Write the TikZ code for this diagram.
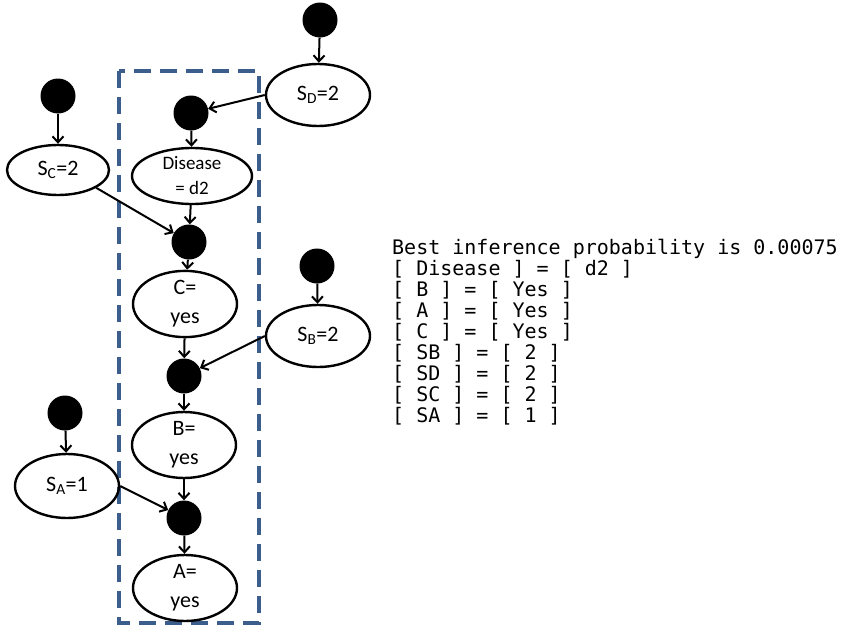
\documentclass[tikz,border=0pt]{standalone}
\usepackage{fontspec}
\setmainfont{Carlito}
\newfontfamily\monofont{DejaVu Sans Mono}
\usetikzlibrary{shapes.geometric,arrows.meta}
\definecolor{boxblue}{HTML}{3B5E8C}
\tikzset{
  dotnode/.style={circle,fill=black,minimum size=35pt,inner sep=0pt},
  ell/.style={ellipse,draw=black,line width=2.4pt,inner sep=0pt,align=center,
    font=\fontsize{22}{29}\selectfont},
  arr/.style={line width=2pt,-{Straight Barb[length=6pt,width=11pt,line width=2pt]}},
  mono/.style={anchor=base west,inner sep=0pt,font=\monofont\fontsize{20}{21}\selectfont,text=black}
}
\begin{document}
\begin{tikzpicture}[x=1pt,y=-1pt]
\useasboundingbox (0,0) rectangle (844,629);
% dashed box
\draw[boxblue,line width=4pt,dash pattern=on 17pt off 9pt] (119,71) rectangle (259,623);
% dots
\node[dotnode] (dD) at (320,20) {};
\node[dotnode] (dC) at (58,96) {};
\node[dotnode] (dB) at (317,266) {};
\node[dotnode] (dA) at (65,413) {};
\node[dotnode] (xDis) at (191,113) {};
\node[dotnode] (xC) at (189,242) {};
\node[dotnode] (xB) at (184,376) {};
\node[dotnode] (xA) at (184,518) {};
% ellipses
\node[ell,minimum width=104pt,minimum height=62pt] (SD) at (318,95) {S\textsubscript{D}=2};
\node[ell,minimum width=102pt,minimum height=50pt] (SC) at (58,170) {S\textsubscript{C}=2};
\node[ell,minimum width=104pt,minimum height=62pt] (SB) at (318,336) {S\textsubscript{B}=2};
\node[ell,minimum width=104pt,minimum height=64pt] (SA) at (67,486) {S\textsubscript{A}=1};
\node[ell,minimum width=120pt,minimum height=56pt,font=\fontsize{19}{25}\selectfont] (Dis) at (192,176) {Disease\\= d2};
\node[ell,minimum width=104pt,minimum height=56pt] (C) at (185,304) {C=\\yes};
\node[ell,minimum width=104pt,minimum height=60pt] (B) at (184,445) {B=\\yes};
\node[ell,minimum width=104pt,minimum height=62pt] (A) at (185,588) {A=\\yes};
% arrows
\draw[arr] (dD) -- (SD);
\draw[arr] (dC) -- (SC);
\draw[arr] (dB) -- (SB);
\draw[arr] (dA) -- (SA);
\draw[arr] (SD.west) -- (xDis);
\draw[arr] (xDis) -- (Dis);
\draw[arr] (Dis) -- (xC);
\draw[arr] (SC.-25) -- (xC);
\draw[arr] (xC) -- (C);
\draw[arr] (C) -- (xB);
\draw[arr] (SB.west) -- (xB);
\draw[arr] (xB) -- (B);
\draw[arr] (B) -- (xA);
\draw[arr] (SA.east) -- (xA);
\draw[arr] (xA) -- (A);
% text output
\node[mono] (t1) at (392,254) {Best inference probability is 0.00075};
\node[mono] (t2) at (392,275) {[ Disease ] = [ d2 ]};
\node[mono] (t3) at (392,296) {[ B ] = [ Yes ]};
\node[mono] (t4) at (392,317) {[ A ] = [ Yes ]};
\node[mono] (t5) at (392,338) {[ C ] = [ Yes ]};
\node[mono] (t6) at (392,359) {[ SB ] = [ 2 ]};
\node[mono] (t7) at (392,380) {[ SD ] = [ 2 ]};
\node[mono] (t8) at (392,401) {[ SC ] = [ 2 ]};
\node[mono] (t9) at (392,422) {[ SA ] = [ 1 ]};
\end{tikzpicture}
\end{document}
